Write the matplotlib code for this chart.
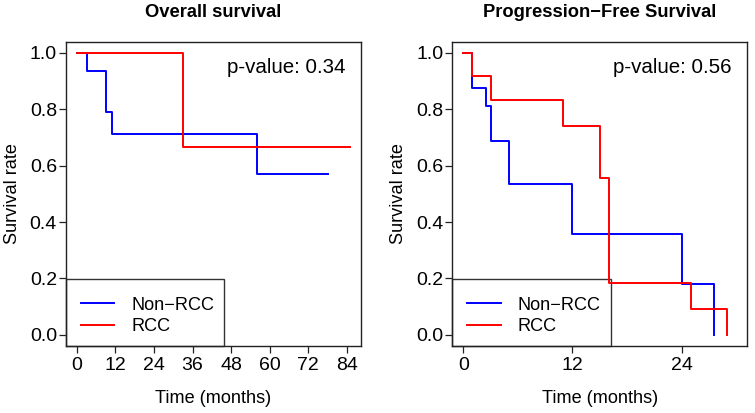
import matplotlib
matplotlib.use('Agg')
import matplotlib.pyplot as plt
from matplotlib.patches import Rectangle

plt.rcParams['font.family'] = ['Liberation Sans', 'DejaVu Sans']

# Overall survival (months, survival probability)
os_non_t = [0, 3, 9, 11, 56, 78]
os_non_s = [1.0, 0.9375, 0.792, 0.714, 0.571, 0.571]
os_rcc_t = [0, 33, 85]
os_rcc_s = [1.0, 0.667, 0.667]

# Progression-free survival
pfs_non_t = [0, 1, 2.5, 3, 5, 12, 24, 27.6]
pfs_non_s = [1.0, 0.875, 0.8125, 0.6875, 0.5357, 0.357, 0.179, 0.0]
pfs_rcc_t = [0, 1, 3, 11, 15, 16, 25, 29]
pfs_rcc_s = [1.0, 0.9167, 0.8333, 0.7407, 0.5556, 0.1852, 0.0926, 0.0]

titles = ['Overall survival', 'Progression\u2212Free Survival']
pvalues = ['p-value: 0.34', 'p-value: 0.56']
groups = ['Non\u2212RCC', 'RCC']
colors = ['#0000FF', '#FF0000']
xticks_list = [list(range(0, 85, 12)), [0, 12, 24]]
xlims = [(-3.4, 88.4), (-1.2, 31.2)]

fig = plt.figure(figsize=(7.55, 4.13), dpi=100)
ax1 = fig.add_axes([0.0874, 0.1622, 0.3907, 0.737])
ax2 = fig.add_axes([0.5991, 0.1622, 0.3903, 0.737])

curves = [
    [(os_non_t, os_non_s), (os_rcc_t, os_rcc_s)],
    [(pfs_non_t, pfs_non_s), (pfs_rcc_t, pfs_rcc_s)],
]

for i, ax in enumerate([ax1, ax2]):
    handles = []
    for (t, s), c, g in zip(curves[i], colors, groups):
        h, = ax.step(t, s, where='post', color=c, lw=1.4, label=g, zorder=3)
        handles.append(h)

    ax.set_xlim(*xlims[i])
    ax.set_ylim(-0.04, 1.04)
    ax.set_xticks(xticks_list[i])
    ax.set_yticks([0, 0.2, 0.4, 0.6, 0.8, 1.0])
    ax.set_yticklabels(['0.0', '0.2', '0.4', '0.6', '0.8', '1.0'])
    ax.tick_params(axis='both', length=5, width=0.9, labelsize=14, color='#222222')
    ax.tick_params(axis='x', pad=3)
    ax.tick_params(axis='y', pad=1.5)
    for sp in ax.spines.values():
        sp.set_color('#222222')
        sp.set_linewidth(1.0)

    ax.text(0.5, 1.097, titles[i], transform=ax.transAxes, ha='center', va='center',
            fontsize=13.2, fontweight='bold')
    ax.text(-0.181, 0.5, 'Survival rate', transform=ax.transAxes, rotation=90,
            ha='center', va='center', fontsize=13.1)
    ax.text(0.5, -0.172, 'Time (months)', transform=ax.transAxes, ha='center',
            va='center', fontsize=13.1)
    ax.text(0.947, 0.9146, pvalues[i], transform=ax.transAxes, ha='right',
            va='center', fontsize=14.8)

    # legend box (R style, bottom-left)
    ax.add_patch(Rectangle((0, 0), 0.537, 0.219, transform=ax.transAxes,
                           fill=False, edgecolor='#333333', lw=1.0, zorder=2,
                           clip_on=False))
    ax.legend(handles=handles, loc='lower left', bbox_to_anchor=(0.05, 0.036),
              frameon=False, fontsize=13.1, handlelength=1.85, handletextpad=0.95,
              labelspacing=0.25, borderpad=0, borderaxespad=0)

fig.savefig('out.png', dpi=100)
